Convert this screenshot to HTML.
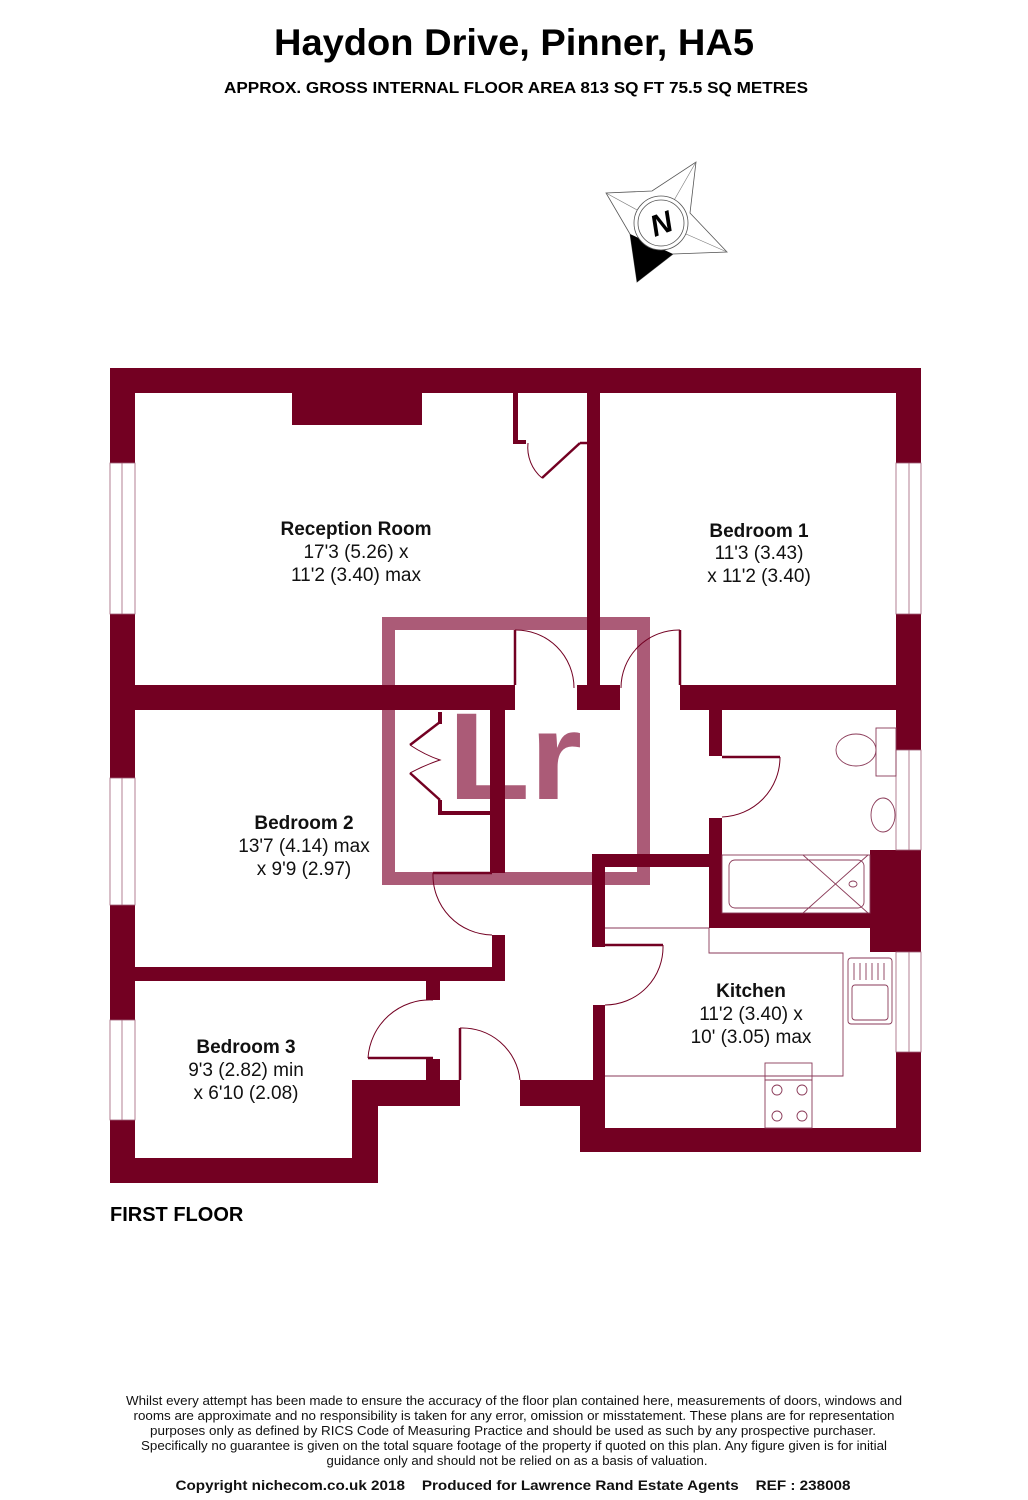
<!DOCTYPE html>
<html><head><meta charset="utf-8"><style>
html,body{margin:0;padding:0;background:#fff;}
svg{display:block;font-family:"Liberation Sans",sans-serif;}
</style></head><body>
<svg width="1028" height="1500" viewBox="0 0 1028 1500" xmlns="http://www.w3.org/2000/svg">
<rect width="1028" height="1500" fill="#fff"/>
<text x="514" y="55" text-anchor="middle" font-size="37" font-weight="bold" textLength="480" lengthAdjust="spacingAndGlyphs">Haydon Drive, Pinner, HA5</text>
<text x="516" y="93" text-anchor="middle" font-size="16" font-weight="bold" textLength="584" lengthAdjust="spacingAndGlyphs">APPROX. GROSS INTERNAL FLOOR AREA 813 SQ FT 75.5 SQ METRES</text>

<!-- compass -->
<polygon points="696,162 690,213 727,252 673,254 637,282 630,234 606,193 652,191" fill="#fff" stroke="#555" stroke-width="0.8"/>
<g stroke="#777" stroke-width="0.6">
<line x1="661" y1="223" x2="696" y2="162"/><line x1="661" y1="223" x2="727" y2="252"/><line x1="661" y1="223" x2="606" y2="193"/>
</g>
<polygon points="637,282 673,254 630,234" fill="#000"/>
<circle cx="661" cy="223" r="27" fill="#fff" stroke="#555" stroke-width="0.8"/>
<circle cx="661" cy="223" r="23" fill="#fff" stroke="#555" stroke-width="0.8"/>
<text x="661" y="234" text-anchor="middle" font-size="30" font-weight="bold" font-style="italic" transform="rotate(-20 661 223)">N</text>

<!-- Lr logo -->
<rect x="388.5" y="623.5" width="255" height="255" fill="none" stroke="#ab5b77" stroke-width="13"/>
<text x="448" y="799" font-size="124" font-weight="bold" fill="#ab5b77" textLength="134" lengthAdjust="spacingAndGlyphs">Lr</text>

<!-- walls -->
<g fill="#730022">
<rect x="110" y="368" width="811" height="25"/>
<rect x="110" y="368" width="25" height="815"/>
<rect x="896" y="368" width="25" height="784"/>
<rect x="292" y="393" width="130" height="32"/>
<rect x="587" y="393" width="13" height="292"/>
<rect x="577" y="685" width="43" height="25"/>
<rect x="110" y="685" width="405" height="25"/>
<rect x="680" y="685" width="241" height="25"/>
<rect x="709" y="710" width="13" height="46"/>
<rect x="709" y="818" width="13" height="110"/>
<rect x="709" y="913" width="212" height="15"/>
<rect x="870" y="850" width="51" height="102"/>
<rect x="490" y="710" width="15" height="163"/>
<rect x="492" y="935" width="13" height="46"/>
<rect x="110" y="967" width="395" height="14"/>
<rect x="426" y="981" width="14" height="19"/>
<rect x="426" y="1059" width="14" height="21"/>
<rect x="592" y="854" width="13" height="93"/>
<rect x="592" y="854" width="117" height="13"/>
<rect x="593" y="1005" width="12" height="147"/>
<rect x="580" y="1080" width="25" height="72"/>
<rect x="580" y="1128" width="341" height="24"/>
<rect x="520" y="1080" width="70" height="26"/>
<rect x="352" y="1080" width="108" height="26"/>
<rect x="352" y="1080" width="26" height="103"/>
<rect x="110" y="1158" width="268" height="25"/>
<rect x="513" y="393" width="5" height="50"/>
<rect x="513" y="440" width="13" height="4"/>
<rect x="440" y="811" width="52" height="4"/>
<rect x="438" y="800" width="4" height="15"/>
<rect x="438" y="712" width="4" height="12"/>
</g>
<!-- windows -->
<g fill="#fff" stroke="#a06078" stroke-width="0.8">
<rect x="110" y="463" width="25" height="151"/>
<rect x="110" y="778" width="25" height="127"/>
<rect x="110" y="1020" width="25" height="100"/>
<rect x="896" y="463" width="25" height="151"/>
<rect x="896" y="750" width="25" height="100"/>
<rect x="896" y="952" width="25" height="100"/>
</g>
<g stroke="#a06078" stroke-width="0.8">
<line x1="122" y1="463" x2="122" y2="614"/><line x1="122" y1="778" x2="122" y2="905"/><line x1="122" y1="1020" x2="122" y2="1120"/>
<line x1="909" y1="463" x2="909" y2="614"/><line x1="909" y1="750" x2="909" y2="850"/><line x1="909" y1="952" x2="909" y2="1052"/>
</g>

<!-- doors -->
<g fill="none" stroke="#730022" stroke-width="1">
<path d="M515 630 A58 58 0 0 1 574 688"/>
<path d="M680 630 A58 58 0 0 0 621 688"/>
<path d="M542 478 A40 40 0 0 1 528 443"/>
<path d="M780 757 A60 60 0 0 1 722 817"/>
<path d="M433 873 A60 60 0 0 0 492 935"/>
<path d="M433 1000 A62 62 0 0 0 368 1058"/>
<path d="M460 1028 A58 58 0 0 1 520 1080"/>
<path d="M663 945 A58 58 0 0 1 605 1005"/>
<path d="M410 745 Q425 755 440 760 Q425 765 410 773"/>
</g>
<g stroke="#730022" stroke-width="2.5" fill="none">
<line x1="542" y1="478" x2="580" y2="443"/><line x1="580" y1="443" x2="587" y2="443"/>
<line x1="515" y1="630" x2="515" y2="685"/>
<line x1="680" y1="630" x2="680" y2="685"/>
<line x1="722" y1="757" x2="780" y2="757"/>
<line x1="433" y1="873" x2="492" y2="873"/>
<line x1="368" y1="1058" x2="433" y2="1058"/>
<line x1="460" y1="1028" x2="460" y2="1080"/>
<line x1="605" y1="945" x2="663" y2="945"/>
<polyline points="440,722 410,745"/><polyline points="410,773 440,800"/>
</g>

<!-- fixtures -->
<g fill="none" stroke="#8a3a58" stroke-width="0.9">
<rect x="876" y="728" width="20" height="48"/>
<ellipse cx="856" cy="750" rx="20" ry="16"/>
<ellipse cx="883" cy="815" rx="12" ry="17"/>
<rect x="722" y="855" width="148" height="58"/>
<rect x="729" y="860" width="135" height="48" rx="6"/>
<ellipse cx="853" cy="884" rx="4" ry="3"/>
<line x1="803" y1="855" x2="868" y2="913"/><line x1="803" y1="913" x2="868" y2="855"/>
<line x1="605" y1="928" x2="709" y2="928"/>
<polyline points="709,928 709,953 843,953 843,1076 605,1076"/>
<rect x="848" y="958" width="44" height="66" rx="3"/>
<rect x="852" y="985" width="36" height="35" rx="3"/>
<rect x="765" y="1063" width="47" height="17"/>
<rect x="765" y="1080" width="47" height="48"/>
<circle cx="777" cy="1090" r="5"/><circle cx="802" cy="1090" r="5"/>
<circle cx="777" cy="1116" r="5"/><circle cx="802" cy="1116" r="5"/>
<line x1="854" y1="963" x2="854" y2="980"/><line x1="860" y1="963" x2="860" y2="980"/><line x1="866" y1="963" x2="866" y2="980"/><line x1="872" y1="963" x2="872" y2="980"/><line x1="878" y1="963" x2="878" y2="980"/><line x1="884" y1="963" x2="884" y2="980"/>
</g>

<!-- labels -->
<g font-size="19" text-anchor="middle" fill="#111">
<text x="356" y="535" font-weight="bold">Reception Room</text>
<text x="356" y="558">17'3 (5.26) x</text>
<text x="356" y="581">11'2 (3.40) max</text>
<text x="759" y="537" font-weight="bold">Bedroom 1</text>
<text x="759" y="559">11'3 (3.43)</text>
<text x="759" y="582">x 11'2 (3.40)</text>
<text x="304" y="829" font-weight="bold">Bedroom 2</text>
<text x="304" y="852">13'7 (4.14) max</text>
<text x="304" y="875">x 9'9 (2.97)</text>
<text x="246" y="1053" font-weight="bold">Bedroom 3</text>
<text x="246" y="1076">9'3 (2.82) min</text>
<text x="246" y="1099">x 6'10 (2.08)</text>
<text x="751" y="997" font-weight="bold">Kitchen</text>
<text x="751" y="1020">11'2 (3.40) x</text>
<text x="751" y="1043">10' (3.05) max</text>
</g>
<text x="110" y="1221" font-size="20" font-weight="bold">FIRST FLOOR</text>

<g font-size="12.5" text-anchor="middle" fill="#111">
<text x="514" y="1405" textLength="776" lengthAdjust="spacingAndGlyphs">Whilst every attempt has been made to ensure the accuracy of the floor plan contained here, measurements of doors, windows and</text>
<text x="514" y="1420" textLength="761" lengthAdjust="spacingAndGlyphs">rooms are approximate and no responsibility is taken for any error, omission or misstatement. These plans are for representation</text>
<text x="513" y="1435" textLength="726" lengthAdjust="spacingAndGlyphs">purposes only as defined by RICS Code of Measuring Practice and should be used as such by any prospective purchaser.</text>
<text x="514" y="1450" textLength="746" lengthAdjust="spacingAndGlyphs">Specifically no guarantee is given on the total square footage of the property if quoted on this plan. Any figure given is for initial</text>
<text x="517" y="1465" textLength="381" lengthAdjust="spacingAndGlyphs">guidance only and should not be relied on as a basis of valuation.</text>
<text x="513" y="1490" font-size="14" font-weight="bold" textLength="675" lengthAdjust="spacingAndGlyphs" xml:space="preserve">Copyright nichecom.co.uk 2018    Produced for Lawrence Rand Estate Agents    REF : 238008</text>
</g>
</svg>
</body></html>
